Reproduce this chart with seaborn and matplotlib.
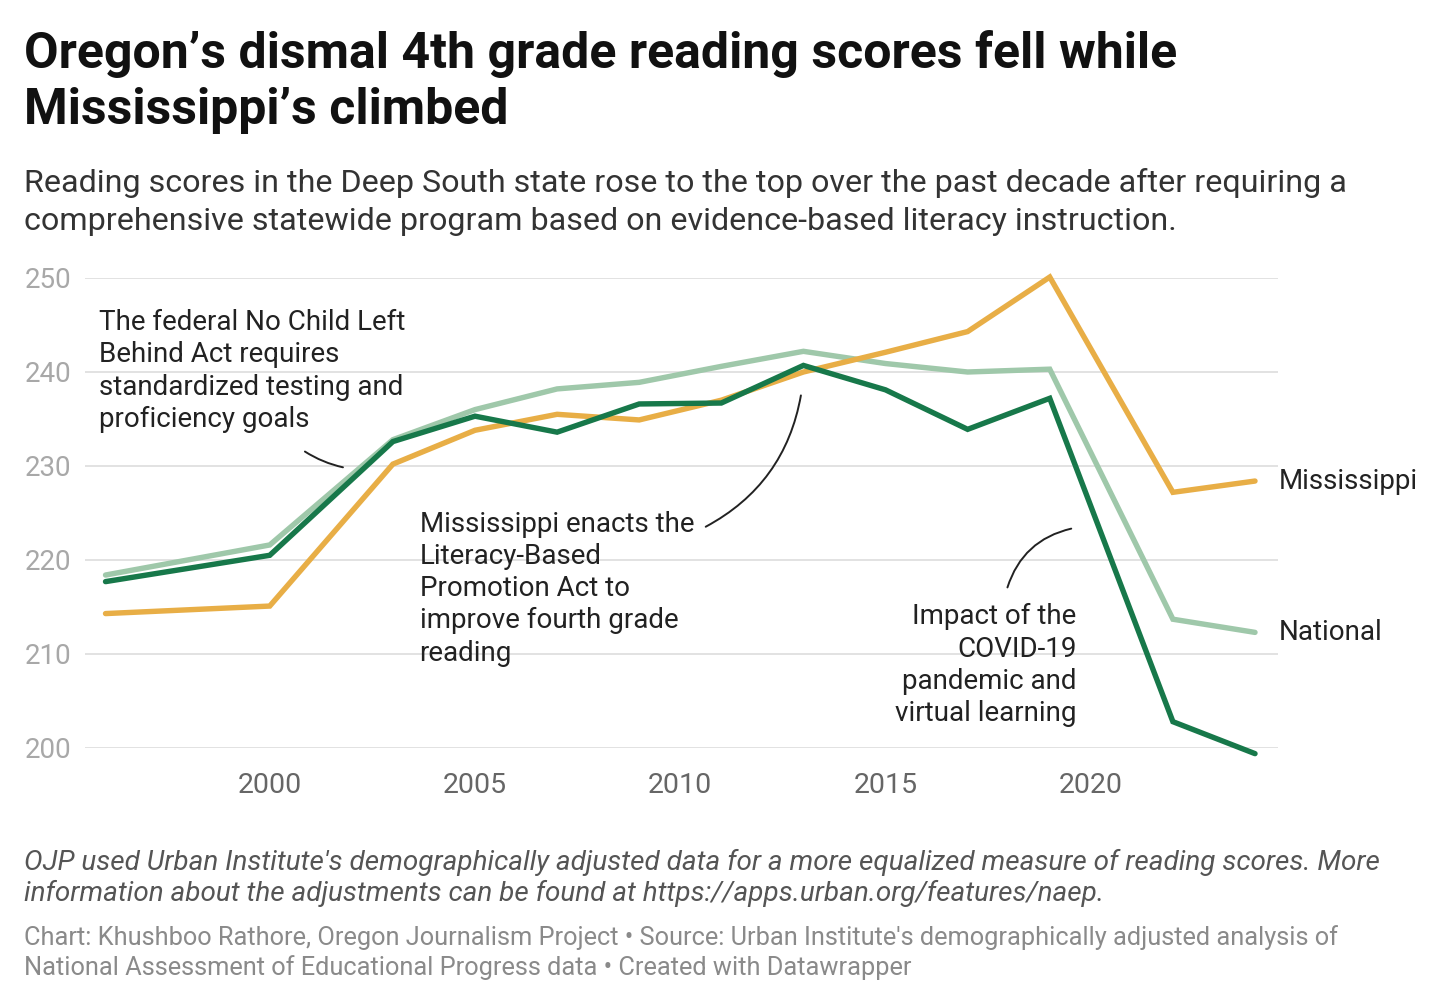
import pandas as pd
import seaborn as sns
import matplotlib.pyplot as plt

years = [1996, 2000, 2003, 2005, 2007, 2009, 2011, 2013, 2015, 2017, 2019, 2022, 2024]
national = [218.4, 221.6, 232.8, 236.0, 238.2, 238.9, 240.6, 242.2, 240.9, 240.0, 240.3, 213.7, 212.3]
mississippi = [214.3, 215.1, 230.2, 233.8, 235.5, 234.9, 237.0, 240.0, 242.1, 244.3, 250.1, 227.2, 228.4]
oregon = [217.7, 220.5, 232.6, 235.3, 233.6, 236.6, 236.7, 240.7, 238.1, 233.9, 237.2, 202.8, 199.4]

series = ["National", "Mississippi", "Oregon"]
colors = {"National": "#9fc8aa", "Mississippi": "#e8ae46", "Oregon": "#17784a"}

df = pd.DataFrame({"year": years * 3,
                   "score": national + mississippi + oregon,
                   "state": [s for s in series for _ in years]})

sns.set_theme(style="white")
plt.rcParams["font.family"] = ["Roboto", "DejaVu Sans"]

W, H = 1440, 1008
fig = plt.figure(figsize=(W / 100, H / 100), dpi=100)
ax = fig.add_axes([85 / W, 1 - 748 / H, 1193 / W, 470 / H])

sns.lineplot(data=df, x="year", y="score", hue="state", hue_order=series,
             palette=colors, linewidth=3.9, legend=False, ax=ax, clip_on=False)
for ln in ax.lines:
    ln.set_solid_joinstyle("miter")
    ln.set_solid_capstyle("round")

ax.set_xlim(1995.5, 2024.56)
ax.set_ylim(200, 250)
ax.set_yticks(range(200, 251, 10))
ax.set_xticks(range(2000, 2021, 5))
ax.grid(axis="y", color="#e2e2e2", linewidth=1.4)
ax.set_axisbelow(True)
for sp in ax.spines.values():
    sp.set_visible(False)
ax.set_xlabel("")
ax.set_ylabel("")
ax.tick_params(axis="y", labelsize=20, labelcolor="#a8a8a8", length=0, pad=10)
ax.tick_params(axis="x", labelsize=20.5, labelcolor="#666666", length=0, pad=17)

# end-of-line labels
last = {"Mississippi": mississippi[-1], "National": national[-1], "Oregon": oregon[-1]}
for name, val in last.items():
    ax.annotate(name, xy=(years[-1], val), xytext=(17, 0), textcoords="offset points",
                fontsize=20, color="#222222", va="center", ha="left")

# annotations
txt = dict(fontsize=20, color="#222222", linespacing=1.25)
ax.text(1995.83, 246.7, "The federal No Child Left\nBehind Act requires\nstandardized testing and\nproficiency goals",
        va="top", ha="left", **txt)
ax.text(2003.65, 225.25, "Mississippi enacts the\nLiteracy-Based\nPromotion Act to\nimprove fourth grade\nreading",
        va="top", ha="left", **txt)
ax.text(2019.65, 215.4, "Impact of the\nCOVID-19\npandemic and\nvirtual learning",
        va="top", ha="right", **txt)

conn = dict(arrowstyle="-", color="#222222", lw=1.4)
ax.annotate("", xy=(2001.85, 229.8), xytext=(2000.8, 231.7),
            arrowprops=dict(connectionstyle="arc3,rad=0.1", **conn))
ax.annotate("", xy=(2012.95, 237.8), xytext=(2010.56, 223.4),
            arrowprops=dict(connectionstyle="arc3,rad=0.25", **conn))
ax.annotate("", xy=(2019.59, 223.4), xytext=(2017.95, 216.8),
            arrowprops=dict(connectionstyle="arc3,rad=-0.3", **conn))

# header and footer
fig.text(24 / W, 1 - 30 / H, "Oregon’s dismal 4th grade reading scores fell while\nMississippi’s climbed",
         fontsize=36, fontweight="bold", color="#111111", va="top", ha="left", linespacing=1.24)
fig.text(24 / W, 1 - 168 / H, "Reading scores in the Deep South state rose to the top over the past decade after requiring a\n"
         "comprehensive statewide program based on evidence-based literacy instruction.",
         fontsize=23.2, color="#333333", va="top", ha="left", linespacing=1.37)
fig.text(24 / W, 1 - 849 / H, "OJP used Urban Institute's demographically adjusted data for a more equalized measure of reading scores. More\n"
         "information about the adjustments can be found at https://apps.urban.org/features/naep.",
         fontsize=20.1, style="italic", color="#555555", va="top", ha="left", linespacing=1.2)
fig.text(24 / W, 1 - 925 / H, "Chart: Khushboo Rathore, Oregon Journalism Project • Source: Urban Institute's demographically adjusted analysis of\n"
         "National Assessment of Educational Progress data • Created with Datawrapper",
         fontsize=18.3, color="#8a8a8a", va="top", ha="left", linespacing=1.24)

fig.savefig("out.png", dpi=100, facecolor="white")
